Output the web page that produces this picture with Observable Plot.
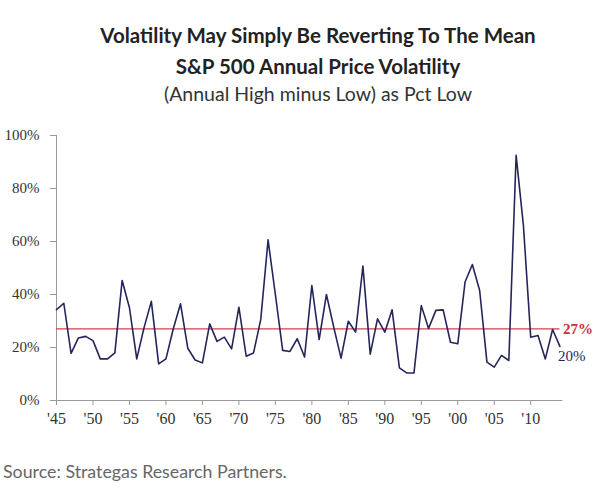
<!DOCTYPE html>
<html>
<head>
<meta charset="utf-8">
<script src="https://cdn.jsdelivr.net/npm/d3@7"></script>
<script src="https://cdn.jsdelivr.net/npm/@observablehq/plot@0.6"></script>
<style>
  html, body { margin: 0; padding: 0; background: #fff; overflow: hidden; }
  body { position: relative; width: 600px; height: 493px; font-family: Lato, "Open Sans", sans-serif; }
  .t { position: absolute; left: 36px; width: 564px; text-align: center; line-height: 1; white-space: nowrap; }
  #t1 { top: 24.5px; font-size: 20.5px; font-weight: 700; color: #222; }
  #t2 { top: 55.8px; font-size: 20.5px; font-weight: 700; color: #222; }
  #t3 { top: 84.4px; font-size: 19.5px; font-weight: 400; color: #333; }
  #chart { position: absolute; left: 0; top: 118px; font-family: "Liberation Serif", "DejaVu Serif", serif; }
  #chart svg, #chart svg text { font-family: "Liberation Serif", "DejaVu Serif", serif !important; }
  #src { position: absolute; left: 3px; top: 462.5px; font-size: 17.8px; color: #666; line-height: 1; white-space: nowrap; }
</style>
</head>
<body>
<div class="t" id="t1">Volatility May Simply Be Reverting To The Mean</div>
<div class="t" id="t2">S&amp;P 500 Annual Price Volatility</div>
<div class="t" id="t3">(Annual High minus Low) as Pct Low</div>
<div id="chart"></div>
<div id="src">Source: Strategas Research Partners.</div>
<script>
// Data
const startYear = 1945;
const volatility = [
  34.3, 36.7, 17.8, 23.6, 24.2, 22.6, 15.7, 15.7, 18.0, 45.3,
  35.0, 15.7, 27.5, 37.4, 13.8, 15.7, 27.0, 36.5, 19.7, 15.3,
  14.2, 28.9, 22.3, 23.9, 19.5, 35.2, 16.7, 17.9, 30.6, 60.6,
  40.0, 18.9, 18.5, 23.3, 16.4, 43.4, 23.0, 40.0, 27.7, 16.0,
  29.9, 25.8, 50.7, 17.5, 30.8, 25.8, 34.2, 12.3, 10.4, 10.4,
  35.8, 27.2, 34.0, 34.2, 22.0, 21.4, 44.7, 51.3, 41.5, 14.5,
  12.6, 17.0, 15.1, 92.5, 66.0, 23.9, 24.5, 15.7, 26.8, 20.4
];
const meanValue = 27;
const lastLabel = 20;
const yTicks = [0, 20, 40, 60, 80, 100];
const xTicks = [1945, 1950, 1955, 1960, 1965, 1970, 1975, 1980, 1985, 1990, 1995, 2000, 2005, 2010];
const xTickLabels = ["'45", "'50", "'55", "'60", "'65", "'70", "'75", "'80", "'85", "'90", "'95", "'00", "'05", "'10"];

const data = volatility.map((v, i) => ({year: startYear + i, value: v}));
const firstYear = data[0].year;
const lastYear = data[data.length - 1].year;
const lastPoint = data[data.length - 1];

const serif = "Liberation Serif, DejaVu Serif, serif";
const axisColor = "#9a9a9a";
const lineColor = "#25255c";
const meanColor = "#d2404c";

const chart = Plot.plot({
  width: 600,
  height: 320,
  marginTop: 17,
  marginBottom: 38,
  marginLeft: 56,
  marginRight: 40.6,
  x: {domain: [firstYear, lastYear]},
  y: {domain: [0, 100]},
  style: {fontFamily: serif, fontSize: "15px", color: "#333", background: "transparent"},
  marks: [
    Plot.axisY({ticks: yTicks, tickFormat: d => d + "%", tickSize: 6, tickPadding: 11, stroke: axisColor, fill: "#333", fontFamily: serif, fontSize: 15, label: null}),
    Plot.axisX({ticks: xTicks, tickFormat: d => xTickLabels[xTicks.indexOf(d)], tickSize: 5, tickPadding: 7, stroke: axisColor, fill: "#333", fontFamily: serif, fontSize: 16, label: null}),
    Plot.ruleX([firstYear], {y1: 0, y2: 100, stroke: axisColor}),
    Plot.ruleY([0], {stroke: axisColor, insetLeft: -6, insetRight: -3}),
    Plot.ruleY([meanValue], {stroke: meanColor, strokeWidth: 1.3}),
    Plot.line(data, {x: "year", y: "value", stroke: lineColor, strokeWidth: 1.6}),
    Plot.text([meanValue], {x: () => lastYear, y: d => d, text: d => d + "%", dx: 3, textAnchor: "start", fill: "#c8303c", fontWeight: "bold", fontFamily: serif, fontSize: 15}),
    Plot.text([lastPoint], {x: "year", y: "value", text: () => lastLabel + "%", dx: -2, dy: 10, textAnchor: "start", fill: lineColor, fontFamily: serif, fontSize: 15})
  ]
});
document.getElementById("chart").appendChild(chart);
</script>
</body>
</html>
